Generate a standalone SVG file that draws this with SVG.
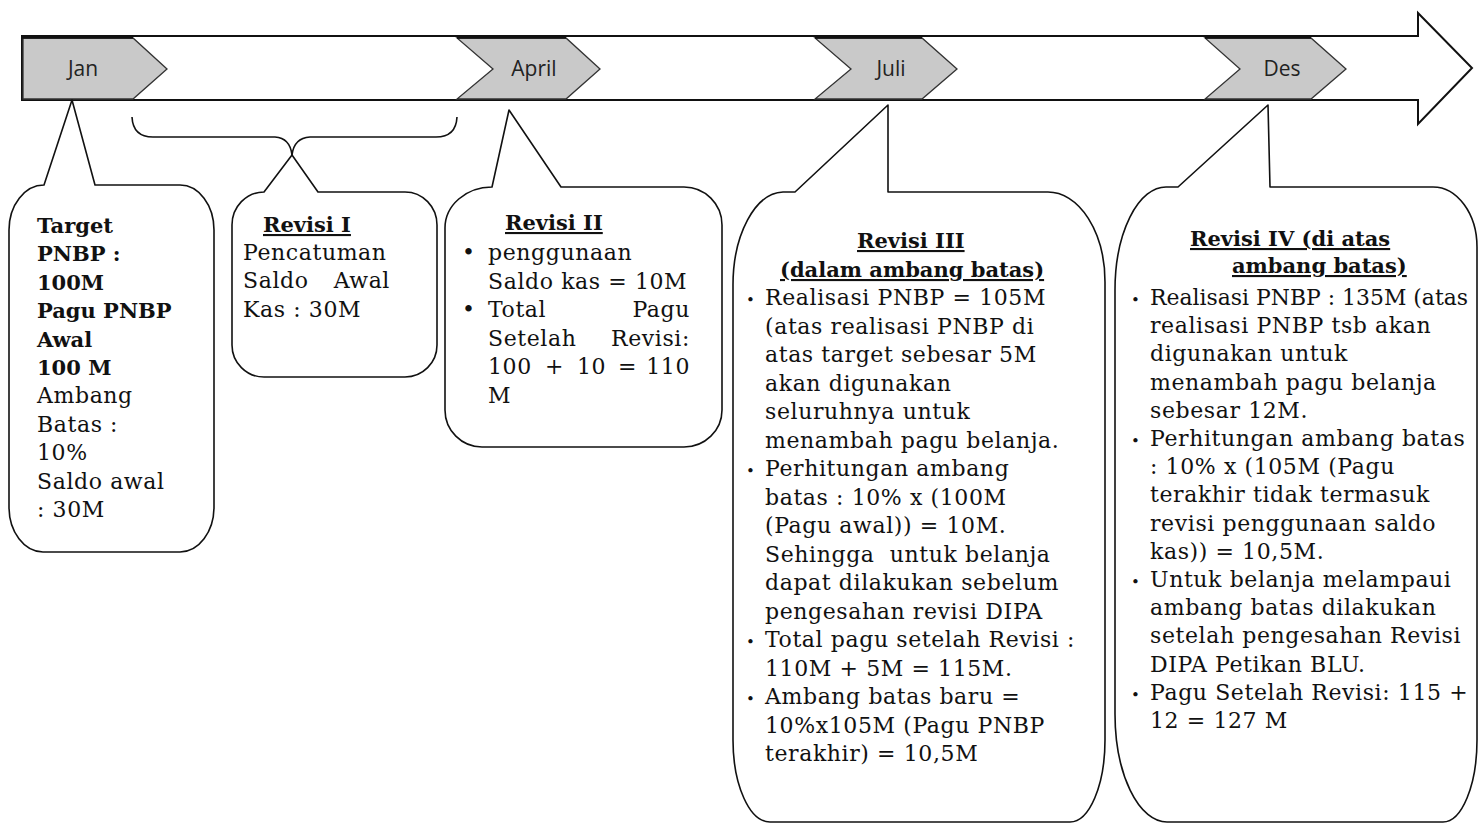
<svg xmlns="http://www.w3.org/2000/svg" width="1479" height="824" viewBox="0 0 1479 824">
<style>
.bg{fill:#fff}
.arrow{fill:#fff;stroke:#111;stroke-width:2;stroke-linejoin:miter}
.chev{fill:#c9c9c9;stroke:#333;stroke-width:1.3}
.topline{stroke:#111;stroke-width:3.5}
.lbl{font-family:"Open Sans","Liberation Sans",sans-serif;font-size:21px;fill:#222;text-anchor:middle}
.box{fill:#fff;stroke:#111;stroke-width:1.6;stroke-linejoin:round}
.t{font-family:"DejaVu Serif",serif;font-size:22px;letter-spacing:0.6px;fill:#111}
.tn{font-family:"DejaVu Serif",serif;font-size:22px;fill:#111}
.b{font-family:"DejaVu Serif",serif;font-size:21px;font-weight:bold;fill:#111}
.u{text-decoration:underline}
.e{text-anchor:end}
.pre{white-space:pre}
.bul{font-family:"DejaVu Serif",serif;font-size:22px;fill:#111}
.sb{font-family:"DejaVu Serif",serif;font-size:15px;fill:#111}
.con{fill:none;stroke:#111;stroke-width:1.6}
</style>
<rect class="bg" x="0" y="0" width="1479" height="824"/>

<g id="timeline">
  <path class="arrow" d="M22,36 H1418 V13 L1472,68 L1418,124 V100 H22 Z"/>
</g>

<g id="node-jan">
  <path class="chev" d="M23,38 H133 L167,69 L133,99 H23 Z"/>
  <line class="topline" x1="22" y1="37" x2="133" y2="37"/>
  <text class="lbl" x="83" y="76">Jan</text>
</g>
<g id="node-april">
  <path class="chev" d="M457,38 H566 L600,69 L566,99 H457 L493,69 Z"/>
  <line class="topline" x1="457" y1="37" x2="566" y2="37"/>
  <text class="lbl" x="534" y="76">April</text>
</g>
<g id="node-juli">
  <path class="chev" d="M815,38 H922 L957,69 L922,99 H815 L851,69 Z"/>
  <line class="topline" x1="815" y1="37" x2="922" y2="37"/>
  <text class="lbl" x="891" y="76">Juli</text>
</g>
<g id="node-des">
  <path class="chev" d="M1205,38 H1311 L1346,69 L1311,99 H1205 L1240,69 Z"/>
  <line class="topline" x1="1205" y1="37" x2="1311" y2="37"/>
  <text class="lbl" x="1282" y="76">Des</text>
</g>

<g id="connectors">
  <path class="con" d="M132,117 Q133,137 153,137 H275 Q290,138 292,155"/>
  <path class="con" d="M457,117 Q456,137 436,137 H310 Q294,138 292,155"/>
</g>

<g id="node-target">
  <path class="box" d="M44,185 L72,100 L95,185 H180 A34,45 0 0 1 214,230 V507 A34,45 0 0 1 180,552 H43 A34,45 0 0 1 9,507 V230 A35,45 0 0 1 44,185 Z"/>
  <text class="b" x="37" y="233">Target</text>
  <text class="b" x="37" y="261.4">PNBP :</text>
  <text class="b" x="37" y="289.8">100M</text>
  <text class="b" x="37" y="318.2">Pagu PNBP</text>
  <text class="b" x="37" y="346.6">Awal</text>
  <text class="b" x="37" y="375">100 M</text>
  <text class="t" x="37" y="403.4">Ambang</text>
  <text class="t" x="37" y="431.8">Batas :</text>
  <text class="t" x="37" y="460.2">10%</text>
  <text class="t" x="37" y="488.6">Saldo awal</text>
  <text class="t" x="37" y="517">: 30M</text>
</g>

<g id="node-revisi1">
  <path class="box" d="M264,192 L292,155 L318,192 H405 A32,33 0 0 1 437,225 V345 A32,32 0 0 1 405,377 H264 A32,32 0 0 1 232,345 V225 A32,33 0 0 1 264,192 Z"/>
  <text class="b u" x="263" y="232">Revisi I</text>
  <text class="t" x="243" y="260">Pencatuman</text>
  <text class="t" x="243" y="288">Saldo</text>
  <text class="t e" x="390" y="288">Awal</text>
  <text class="t" x="243" y="317">Kas : 30M</text>
</g>

<g id="node-revisi2">
  <path class="box" d="M492,187 L509,110 L561,187 H684 A38,38 0 0 1 722,225 V410 A38,37 0 0 1 684,447 H482 A37,37 0 0 1 445,410 V228 A47,41 0 0 1 492,187 Z"/>
  <text class="b u" x="505" y="230">Revisi II</text>
  <text class="bul" x="462" y="260">•</text>
  <text class="t" x="488" y="260">penggunaan</text>
  <text class="t" x="488" y="288.6">Saldo kas = 10M</text>
  <text class="bul" x="462" y="317.2">•</text>
  <text class="t" x="488" y="317.2">Total</text>
  <text class="t e" x="690" y="317.2">Pagu</text>
  <text class="t" x="488" y="345.8">Setelah</text>
  <text class="t e" x="690" y="345.8">Revisi:</text>
  <text class="t" x="488" y="374.4">100</text>
  <text class="t" x="545" y="374.4">+</text>
  <text class="t" x="577" y="374.4">10</text>
  <text class="t" x="618" y="374.4">=</text>
  <text class="t e" x="690" y="374.4">110</text>
  <text class="t" x="488" y="403">M</text>
</g>

<g id="node-revisi3">
  <path class="box" d="M795,192 L888,105 V192 H1048 A57,90 0 0 1 1105,282 V740 A35,82 0 0 1 1070,822 H770 A37,82 0 0 1 733,740 V285 A51,93 0 0 1 783,192 Z"/>
  <text class="b u" x="857" y="248">Revisi III</text>
  <text class="b u" x="780" y="277">(dalam ambang batas)</text>
  <text class="sb" x="746" y="305">•</text>
  <text class="t" x="765" y="305">Realisasi PNBP = 105M</text>
  <text class="t" x="765" y="333.5">(atas realisasi PNBP di</text>
  <text class="t" x="765" y="362">atas target sebesar 5M</text>
  <text class="t" x="765" y="390.5">akan digunakan</text>
  <text class="t" x="765" y="419">seluruhnya untuk</text>
  <text class="t" x="765" y="447.5">menambah pagu belanja.</text>
  <text class="sb" x="746" y="476">•</text>
  <text class="t" x="765" y="476">Perhitungan ambang</text>
  <text class="t" x="765" y="504.5">batas : 10% x (100M</text>
  <text class="t" x="765" y="533">(Pagu awal)) = 10M.</text>
  <text class="t pre" x="765" y="561.5">Sehingga  untuk belanja</text>
  <text class="t" x="765" y="590">dapat dilakukan sebelum</text>
  <text class="t" x="765" y="618.5">pengesahan revisi DIPA</text>
  <text class="sb" x="746" y="647">•</text>
  <text class="t" x="765" y="647">Total pagu setelah Revisi :</text>
  <text class="t" x="765" y="675.5">110M + 5M = 115M.</text>
  <text class="sb" x="746" y="704">•</text>
  <text class="t" x="765" y="704">Ambang batas baru =</text>
  <text class="t" x="765" y="732.5">10%x105M (Pagu PNBP</text>
  <text class="t" x="765" y="761">terakhir) = 10,5M</text>
</g>

<g id="node-revisi4">
  <path class="box" d="M1178,187 L1268,105 L1270,187 H1433 A44,60 0 0 1 1477,247 V740 A34,82 0 0 1 1443,822 H1167 A52,108 0 0 1 1115,714 V290 A51,103 0 0 1 1166,187 Z"/>
  <text class="b u" x="1190" y="246">Revisi IV (di atas</text>
  <text class="b u" x="1232" y="273">ambang batas)</text>
  <text class="sb" x="1131" y="305">•</text>
  <text class="tn" x="1150" y="305" textLength="318" lengthAdjust="spacingAndGlyphs">Realisasi PNBP : 135M (atas</text>
  <text class="t" x="1150" y="333.2">realisasi PNBP tsb akan</text>
  <text class="t" x="1150" y="361.4">digunakan untuk</text>
  <text class="t" x="1150" y="389.6">menambah pagu belanja</text>
  <text class="t" x="1150" y="417.8">sebesar 12M.</text>
  <text class="sb" x="1131" y="446">•</text>
  <text class="t" x="1150" y="446">Perhitungan ambang batas</text>
  <text class="t" x="1150" y="474.2">: 10% x (105M (Pagu</text>
  <text class="t" x="1150" y="502.4">terakhir tidak termasuk</text>
  <text class="t" x="1150" y="530.6">revisi penggunaan saldo</text>
  <text class="t" x="1150" y="558.8">kas)) = 10,5M.</text>
  <text class="sb" x="1131" y="587">•</text>
  <text class="t" x="1150" y="587">Untuk belanja melampaui</text>
  <text class="t" x="1150" y="615.2">ambang batas dilakukan</text>
  <text class="t" x="1150" y="643.4">setelah pengesahan Revisi</text>
  <text class="t" x="1150" y="671.6">DIPA Petikan BLU.</text>
  <text class="sb" x="1131" y="699.8">•</text>
  <text class="t" x="1150" y="699.8">Pagu Setelah Revisi: 115 +</text>
  <text class="t" x="1150" y="728">12 = 127 M</text>
</g>
</svg>
